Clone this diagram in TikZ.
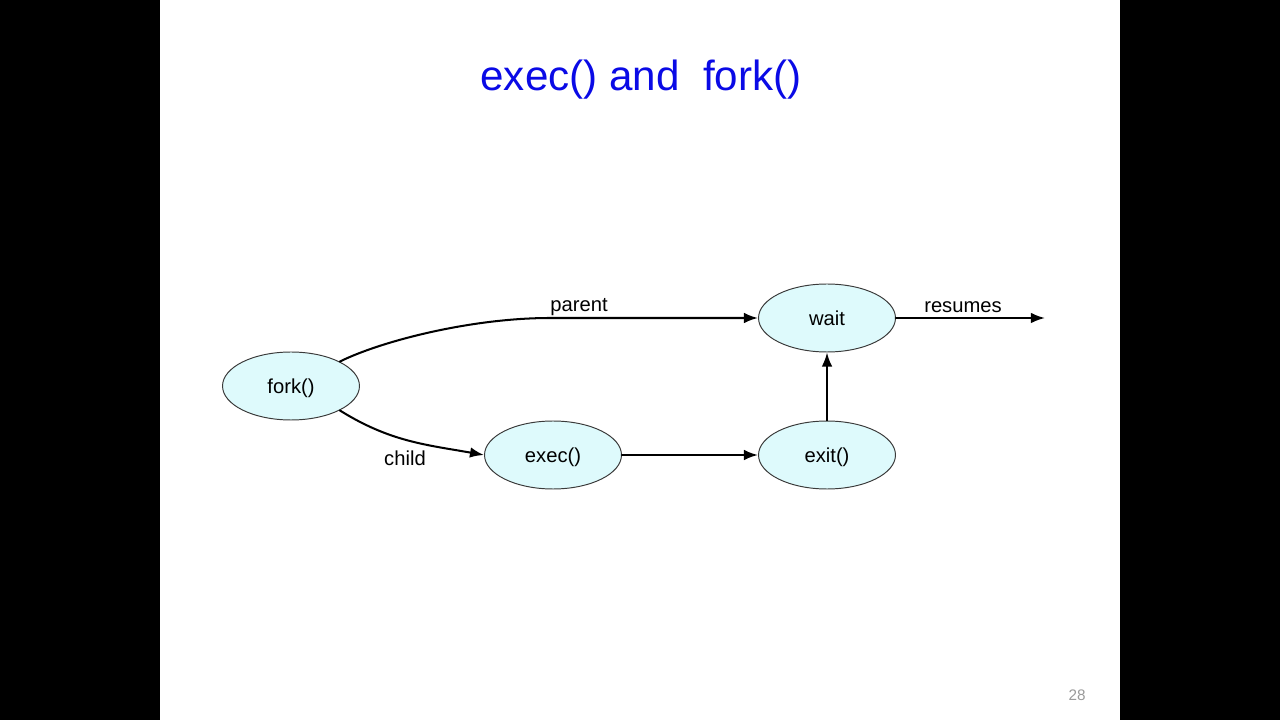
\documentclass[tikz,border=0pt]{standalone}
\usepackage{fontspec}
\setmainfont{Liberation Sans}
\usetikzlibrary{arrows.meta,shapes.geometric}
\usepackage{xcolor}
\definecolor{bubble}{HTML}{DEFAFC}
\definecolor{rim}{HTML}{3A3A3A}
\definecolor{headline}{HTML}{0A0AE6}
\definecolor{pageno}{HTML}{9A9A9A}

\begin{document}
\begin{tikzpicture}[x=0.02cm,y=0.02cm,line cap=round,line join=round,
  state/.style={ellipse,draw=rim,line width=0.55pt,fill=bubble,
    minimum width=2.74cm,minimum height=1.36cm,inner sep=0pt,text depth=0pt,
    font=\fontsize{11.5}{13}\selectfont},
  flow/.style={line width=1.15pt,-{Latex[length=8pt,width=6pt]}},
  tag/.style={font=\fontsize{11.5}{13}\selectfont}]
  % Screen frame with the white slide in the middle.
  \fill[black] (0,0) rectangle (1280,720);
  \fill[white] (160,0) rectangle (1120,720);

  % Slide title and page number.
  \node[text=headline,font=\fontsize{24}{28}\selectfont] (title) at (641,640) {exec() and\ \ fork()};
  \node[text=pageno,font=\fontsize{8.7}{10}\selectfont] (page) at (1077,25) {28};

  % Process states.
  \node[state] (fork) at (291,334) {fork()};
  \node[state] (wait) at (827,402) {wait};
  \node[state] (exec) at (553,265) {exec()};
  \node[state] (exit) at (827,265) {exit()};

  % Free ends of the parent branch and the resumed line.
  \coordinate (bend) at (550,402);
  \coordinate (onward) at (1045,402);

  % Parent waits, child runs exec() and exits.
  \draw[flow] (fork.north east) .. controls +(40,20) and +(-80,0) .. (bend) -- (wait.west);
  \draw[flow] (fork.south east) to[out=-32,in=170] (exec.west);
  \draw[flow] (exec) -- (exit);
  \draw[flow] (exit) -- (wait);
  \draw[flow] (wait) -- (onward);

  % Branch labels.
  \node[tag] (parent) at (579,413) {parent};
  \node[tag] (child) at (405,262) {child};
  \node[tag] (resumes) at (963,413) {resumes};
\end{tikzpicture}
\end{document}
